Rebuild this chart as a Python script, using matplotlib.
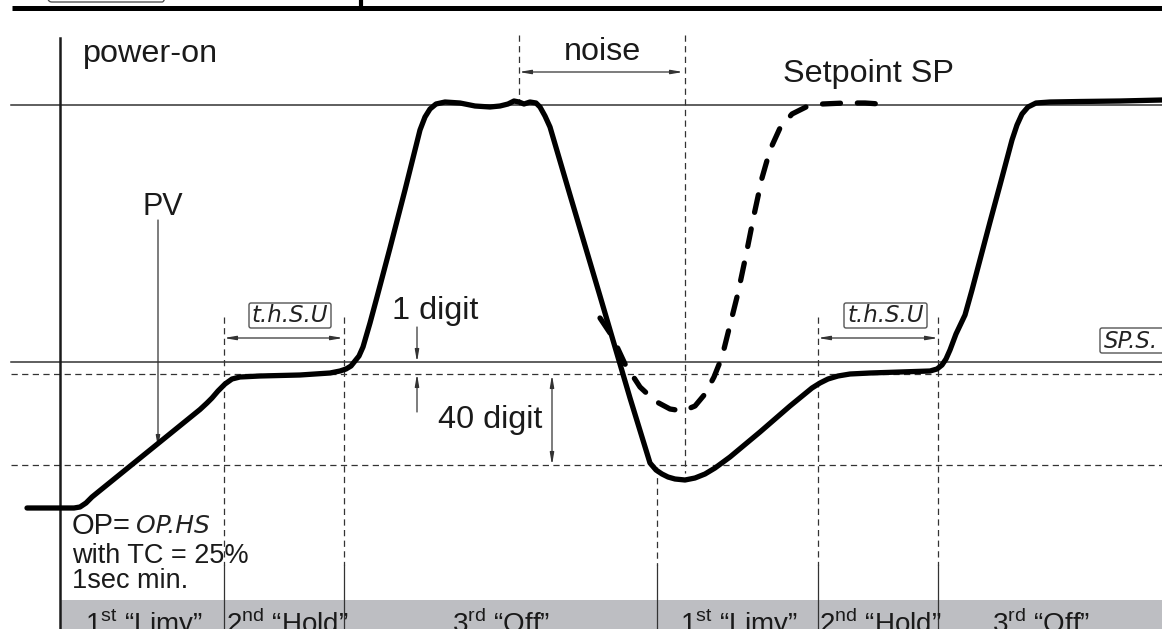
import matplotlib
matplotlib.use("Agg")
import matplotlib.pyplot as plt
from matplotlib.patches import FancyBboxPatch, Rectangle

plt.rcParams['font.family'] = ['Liberation Sans', 'DejaVu Sans']
plt.rcParams['mathtext.fontset'] = 'custom'
plt.rcParams['mathtext.rm'] = 'Liberation Sans'

# ---- data (diagram coordinates, y grows downward) ----
pv_x = [27, 60, 74, 80, 86, 92, 100, 150, 200, 207, 212, 218, 225, 232, 240, 260, 300, 330, 340, 346,
        351, 355, 359, 363, 370, 377, 390, 405, 415, 420, 425, 430, 436, 445, 460, 475, 490, 500, 508,
        514, 519, 524, 530, 536, 540, 545, 550, 570, 600, 630, 650, 656, 662, 668, 675, 685, 695, 705,
        715, 730, 760, 790, 812, 820, 828, 838, 850, 870, 900, 930, 937, 942, 946, 950, 956, 965, 972,
        990, 1000, 1012, 1017, 1022, 1028, 1036, 1050, 1080, 1120, 1162]
pv_y = [508, 508, 508, 507, 503, 497, 490.5, 450, 409.5, 403, 398, 391, 384, 379, 377, 376, 375, 373, 371, 369,
        366, 361, 356, 347, 323, 297, 248, 190, 150, 130, 117, 109, 104, 102, 103, 106, 107, 106, 104,
        101, 102, 104, 102, 103, 107, 116, 127, 195, 296, 398, 463, 470, 474, 477, 479, 480, 478, 474,
        468, 457, 432, 406, 388, 383, 379, 376, 374, 373, 372, 371, 369, 365, 359, 350, 334, 315, 290,
        222, 185, 140, 125, 114, 107, 103, 102, 101.5, 101, 100]

sp_x = [600, 612, 625, 640, 655, 670, 683, 695, 705, 714, 722, 730, 738, 746, 754, 762, 770, 780, 792,
        806, 822, 845, 865, 880]
sp_y = [318, 336, 364, 387, 401, 409, 411, 406, 394, 377, 357, 325, 293, 255, 215, 178, 150, 128, 114,
        107, 104, 103, 103, 104]

levels_solid = [105, 362]          # top level, SP.S level
levels_dashed = [374, 465]         # 1 digit / 40 digit levels
phase_x = [224, 344, 657, 818, 938]
phase_top = [317, 317, 467, 317, 317]
band_labels = [("1", "st", "“Limy”", 85), ("2", "nd", "“Hold”", 226), ("3", "rd", "“Off”", 452),
               ("1", "st", "“Limy”", 680), ("2", "nd", "“Hold”", 819), ("3", "rd", "“Off”", 992)]

W, H = 1162, 629
fig = plt.figure(figsize=(11.62, 6.29), dpi=100)
ax = fig.add_axes([0, 0, 1, 1])
ax.set_xlim(0, W)
ax.set_ylim(H, 0)
ax.axis('off')

ink = '#1a1a1a'
thin = '#333333'

# header fragment
ax.plot([12, W], [8, 8], color='black', lw=3.6, solid_capstyle='butt')
ax.plot([361, 361], [0, 8], color='black', lw=3.0, solid_capstyle='butt')
ax.add_patch(FancyBboxPatch((48, -20), 118, 22, boxstyle="round,pad=0,rounding_size=4",
                            fc='none', ec='#555555', lw=1.0))

# gray band
ax.add_patch(Rectangle((60, 600), W - 60, 29, fc='#bdbec2', ec='none', zorder=0))

# horizontal levels
for y in levels_solid:
    ax.plot([11, W], [y, y], color=thin, lw=1.1)
for y in levels_dashed:
    ax.plot([11, W], [y, y], color=thin, lw=0.9, linestyle=(0, (5, 3.5)))

# left axis
ax.plot([60, 60], [38, H], color=ink, lw=1.8)

# phase boundaries
for x, yt in zip(phase_x, phase_top):
    ax.plot([x, x], [yt, 565], color=thin, lw=0.9, linestyle=(0, (5, 3.5)))
    ax.plot([x, x], [565, H], color=thin, lw=0.9)

# noise markers
ax.plot([519, 519], [35, 105], color=thin, lw=0.9, linestyle=(0, (5, 3.5)))
ax.plot([685, 685], [35, 473], color=thin, lw=0.9, linestyle=(0, (5, 3.5)))

arr = dict(arrowstyle='<|-|>,head_length=0.7,head_width=0.12', color=thin, lw=0.9,
           shrinkA=0, shrinkB=0)
one = dict(arrowstyle='-|>,head_length=0.7,head_width=0.12', color=thin, lw=0.9,
           shrinkA=0, shrinkB=0)
ax.annotate('', xy=(683, 72), xytext=(519, 72), arrowprops=arr)
ax.annotate('', xy=(343, 338), xytext=(224, 338), arrowprops=arr)
ax.annotate('', xy=(938, 338), xytext=(818, 338), arrowprops=arr)
ax.annotate('', xy=(552, 465), xytext=(552, 375), arrowprops=arr)
ax.annotate('', xy=(417, 362), xytext=(417, 327), arrowprops=one)
ax.annotate('', xy=(417, 374), xytext=(417, 412), arrowprops=one)
ax.annotate('', xy=(158, 448), xytext=(158, 220), arrowprops=one)

# curves
ax.plot(pv_x, pv_y, color='black', lw=3.8, solid_joinstyle='round', solid_capstyle='round', zorder=5)
ax.plot(sp_x, sp_y, color='black', lw=3.8, linestyle=(0, (3.4, 3.2)), dash_capstyle='round', zorder=5)

# texts
fs = 23.3
ax.text(83, 54, "power-on", fontsize=fs, va='center', ha='left', color=ink)
ax.text(602, 52, "noise", fontsize=fs, va='center', ha='center', color=ink)
ax.text(783, 74, "Setpoint SP", fontsize=fs, va='center', ha='left', color=ink)
ax.text(163, 207, "PV", fontsize=22, va='center', ha='center', color=ink)
ax.text(392, 311, "1 digit", fontsize=fs, va='center', ha='left', color=ink)
ax.text(438, 420, "40 digit", fontsize=fs, va='center', ha='left', color=ink)

seg = dict(fontsize=16.5, style='italic', family=['DejaVu Sans'], color='#222222',
           va='center', ha='center', fontweight='light')
for (x0, x1) in [(249, 331), (844, 927)]:
    ax.add_patch(FancyBboxPatch((x0, 303), x1 - x0, 25, boxstyle="round,pad=0,rounding_size=2",
                                fc='white', ec='#555555', lw=1.0, zorder=6))
    ax.text((x0 + x1) / 2, 316, "t.h.S.U", zorder=7, **seg)
ax.add_patch(FancyBboxPatch((1100, 328), 80, 25, boxstyle="round,pad=0,rounding_size=2",
                            fc='white', ec='#555555', lw=1.0, zorder=6))
ax.text(1104, 341, "SP.S.", zorder=7, **{**seg, 'ha': 'left'})

ax.text(72, 526, "OP=", fontsize=21, va='center', ha='left', color=ink)
ax.text(136, 526, "OP.HS", zorder=7, **{**seg, 'ha': 'left', 'fontsize': 18})
ax.text(72, 556, "with TC = 25%", fontsize=19.5, va='center', ha='left', color=ink)
ax.text(72, 581, "1sec min.", fontsize=19.5, va='center', ha='left', color=ink)

for num, sup, word, x in band_labels:
    ax.text(x, 633, num + r"$^{\mathrm{" + sup + "}}$ " + word, fontsize=20, va='baseline',
            ha='left', color=ink, zorder=3)

fig.savefig("out.png", dpi=100)
